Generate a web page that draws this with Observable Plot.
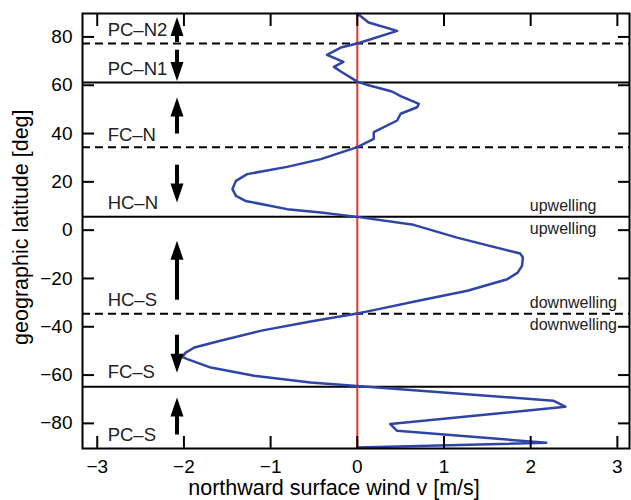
<!DOCTYPE html>
<html><head><meta charset="utf-8">
<script src="https://cdn.jsdelivr.net/npm/d3@7"></script>
<script src="https://cdn.jsdelivr.net/npm/@observablehq/plot@0.6"></script>
<style>
body{margin:0;background:#fff}
#chart svg{font-family:"Liberation Sans",Arial,Helvetica,sans-serif;display:block}
</style>
</head><body><div id="chart"></div>
<script>
// Curve: northward surface wind v [m/s] against latitude [deg]
const latitude = [89.7, 86.0, 82.5, 77.3, 75.6, 72.6, 69.7, 67.6, 65.7, 61.5, 60.1, 57.4, 55.5, 52.3, 50.9, 48.2, 45.4, 40.6, 37.8, 34.4,
  29.4, 26.2, 23.2, 20.4, 17.0, 14.2, 12.1, 8.7, 7.3, 5.5, 2.2, -3.1, -9.7, -11.3, -14.8, -17.6, -20.3, -25.1, -29.3, -33.1, -34.5,
  -37.8, -41.7, -45.8, -48.6, -50.7, -52.5, -53.4, -56.9, -60.3, -63.1, -64.5, -70.6, -73.1, -80.3, -83.1, -88.0, -90.0];
const windV = [0.0, 0.13, 0.46, 0.0, -0.19, -0.35, -0.16, -0.27, -0.19, 0.0, 0.12, 0.40, 0.50, 0.71, 0.69, 0.50, 0.46, 0.19, 0.19, 0.0,
  -0.42, -0.81, -1.27, -1.40, -1.44, -1.40, -1.29, -0.81, -0.42, 0.0, 0.65, 1.15, 1.88, 1.91, 1.90, 1.85, 1.73, 1.27, 0.69, 0.19, 0.0,
  -0.54, -1.12, -1.58, -1.88, -1.98, -2.02, -1.96, -1.69, -1.19, -0.54, 0.0, 2.26, 2.40, 0.38, 0.46, 2.18, 0.0];

const xTicks = [-3, -2, -1, 0, 1, 2, 3];
const yTicks = [-80, -60, -40, -20, 0, 20, 40, 60, 80];

// Cell boundaries (latitudes)
const solidBoundaries = [61.1, 5.6, -64.8];
const dashedBoundaries = [77.3, 34.3, -34.6];

// Cell names and their label latitudes
const cellNames = ["PC–N2", "PC–N1", "FC–N", "HC–N", "HC–S", "FC–S", "PC–S"];
const cellLabelLat = [80.4, 64.3, 37.0, 8.8, -31.3, -61.2, -87.2];
const cellLabelV = -2.88;

// Arrows (tail and tip latitudes)
const arrowTailLat = [77.7, 74.5, 39.8, 26.9, -29.0, -43.5, -84.8];
const arrowTipLat = [88.3, 61.8, 54.9, 11.4, -4.4, -59.0, -69.3];
const arrowV = -2.08;

// Upwelling / downwelling notes
const wellingNames = ["upwelling", "upwelling", "downwelling", "downwelling"];
const wellingLat = [8.0, -1.5, -32.4, -41.2];
const wellingV = 1.99;

const curve = latitude.map((lat, i) => ({lat, v: windV[i]}));
const arrows = arrowTailLat.map((t, i) => ({tail: t, tip: arrowTipLat[i], up: arrowTipLat[i] > t}));
const head = {draw(ctx) { ctx.moveTo(0, 0); ctx.lineTo(6.5, 19); ctx.lineTo(-6.5, 19); ctx.closePath(); }};
const fmt = d => (d < 0 ? "\u2212" : "") + Math.abs(d);

const plot = Plot.plot({
  width: 631, height: 500,
  marginLeft: 82, marginRight: 2, marginTop: 13, marginBottom: 52,
  style: {fontFamily: '"Liberation Sans",Arial,Helvetica,sans-serif', fontSize: "19px", background: "white", color: "black", overflow: "visible"},
  x: {domain: [-3.17, 3.14]},
  y: {domain: [-90.4, 89.7]},
  marks: [
    Plot.ruleY(solidBoundaries, {stroke: "black", strokeWidth: 2}),
    Plot.ruleY(dashedBoundaries, {stroke: "black", strokeWidth: 2, strokeDasharray: "8,5"}),
    Plot.ruleX([0], {stroke: "#e8362c", strokeWidth: 2}),
    Plot.line(curve, {x: "v", y: "lat", stroke: "#2f45a6", strokeWidth: 2.5}),
    Plot.ruleX(arrows, {x: () => arrowV, y1: "tail", y2: d => d.tip - (d.up ? 3.5 : -3.5), stroke: "black", strokeWidth: 4}),
    Plot.dot(arrows, {x: () => arrowV, y: "tip", symbol: head, r: 5, fill: "black", stroke: "none", rotate: d => d.up ? 0 : 180}),
    Plot.text(cellNames, {x: () => cellLabelV, y: (d, i) => cellLabelLat[i], text: d => d, textAnchor: "start", lineAnchor: "bottom", fontSize: 18.5, fill: "#222"}),
    Plot.text(wellingNames, {x: () => wellingV, y: (d, i) => wellingLat[i], text: d => d, textAnchor: "start", lineAnchor: "bottom", fontSize: 16, fill: "#222"}),
    Plot.axisX({ticks: xTicks, tickFormat: fmt, anchor: "bottom", tickSize: -12, tickPadding: 23, label: null, strokeWidth: 2}),
    Plot.axisX({ticks: xTicks, anchor: "top", tickSize: -12, tickFormat: () => "", label: null, strokeWidth: 2}),
    Plot.axisY({ticks: yTicks, tickFormat: fmt, anchor: "left", tickSize: -12, tickPadding: 22, label: null, strokeWidth: 2}),
    Plot.axisY({ticks: yTicks, anchor: "right", tickSize: -12, tickFormat: () => "", label: null, strokeWidth: 2}),
    Plot.frame({stroke: "black", strokeWidth: 2}),
    Plot.text(["northward surface wind v [m/s]"], {frameAnchor: "bottom", text: d => d, textAnchor: "middle", dx: -22, dy: 46, lineAnchor: "bottom", fontSize: 21.5}),
    Plot.text(["geographic latitude [deg]"], {frameAnchor: "left", text: d => d, textAnchor: "middle", rotate: -90, dx: -54.6, dy: -3.8, lineAnchor: "bottom", fontSize: 21.5})
  ]
});
document.getElementById("chart").appendChild(plot);
</script>
</body></html>
